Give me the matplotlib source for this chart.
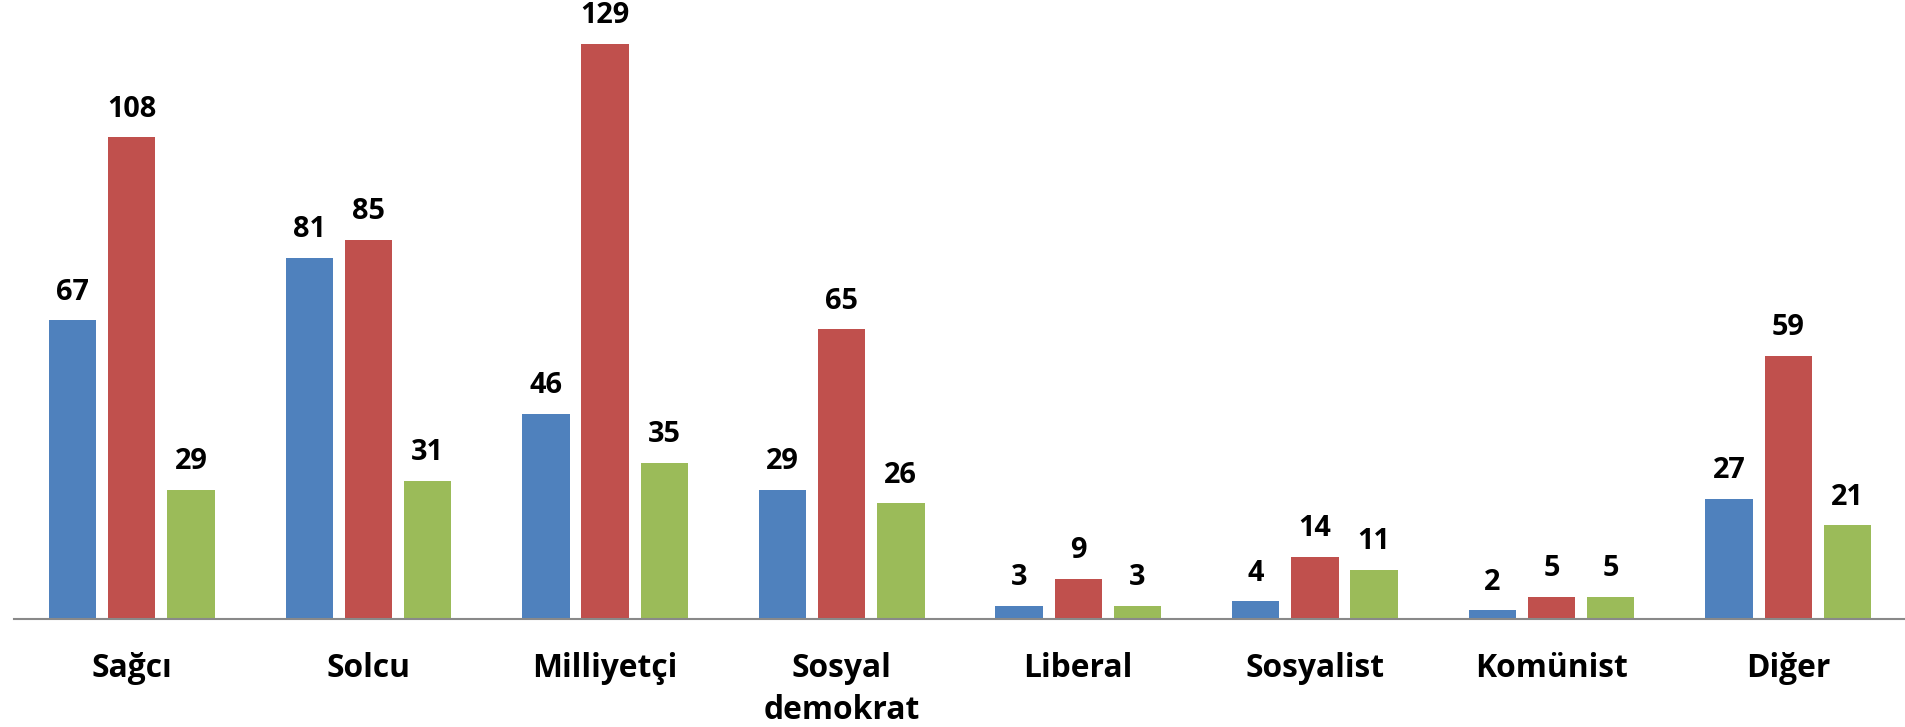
import matplotlib
matplotlib.use("Agg")
import matplotlib.pyplot as plt
import numpy as np

categories = ["Sağcı", "Solcu", "Milliyetçi", "Sosyal\ndemokrat", "Liberal",
              "Sosyalist", "Komünist", "Diğer"]
series_1 = [67, 81, 46, 29, 3, 4, 2, 27]
series_2 = [108, 85, 129, 65, 9, 14, 5, 59]
series_3 = [29, 31, 35, 26, 3, 11, 5, 21]

colors = ["#4F81BD", "#C0504D", "#9BBB59"]
FONT = ["Open Sans", "DejaVu Sans"]

W, H = 1905, 727
fig = plt.figure(figsize=(W / 100, H / 100), dpi=100)
left_px, right_px = 13.5, 1906.5
base_px = 619.0  # baseline from top
ax = fig.add_axes([left_px / W, (H - base_px) / H, (right_px - left_px) / W, base_px / H])

x = np.arange(len(categories))
width = 0.2
step = 0.25
for i, (vals, c) in enumerate(zip([series_1, series_2, series_3], colors)):
    bars = ax.bar(x + (i - 1) * step, vals, width, color=c, edgecolor="none", zorder=2)
    ax.bar_label(bars, labels=[str(v) for v in vals], padding=9.7,
                 fontsize=20.8, fontweight="bold", family=FONT, color="black")

ax.set_xlim(-0.5, len(categories) - 0.5)
ax.set_ylim(0, base_px / 4.46)
ax.set_xticks(x)
ax.set_xticklabels(categories, fontsize=22.9, fontweight="bold", family=FONT)
for lbl in ax.get_xticklabels():
    lbl.set_linespacing(1.36)
ax.tick_params(axis="x", length=0, pad=23.6)
ax.set_yticks([])
for s in ["top", "left", "right"]:
    ax.spines[s].set_visible(False)
ax.spines["bottom"].set_color("#898989")
ax.spines["bottom"].set_linewidth(1.5)
ax.spines["bottom"].set_zorder(3)
ax.patch.set_visible(False)

fig.savefig("out.png", dpi=100, facecolor="white")
